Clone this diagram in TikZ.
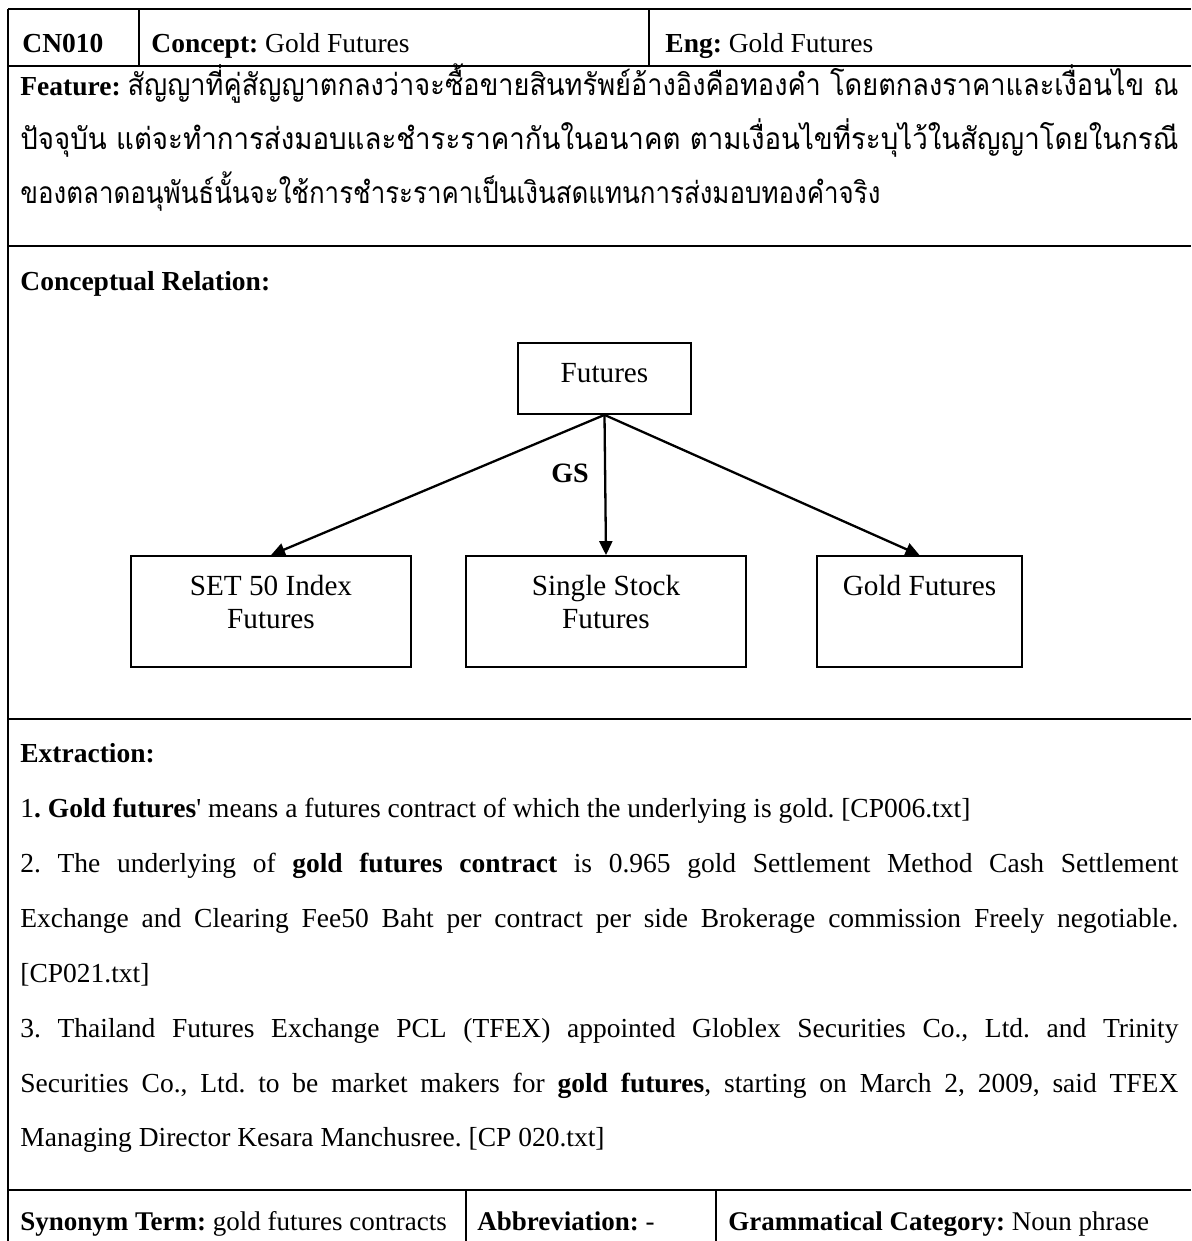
\documentclass[tikz,border=0pt]{standalone}
\usepackage{fontspec}
\usepackage{graphicx}
\setmainfont{Liberation Serif}
\newfontfamily\thaifont[Script=Thai]{Loma}
\usetikzlibrary{arrows.meta}
\frenchspacing

% Thai line stretched to a given width after an optional lead-in
\newsavebox\fitpre
\newsavebox\fitbody
\newdimen\fitprew
\newdimen\fitbodyw
\newcommand\thaisize{\fontsize{15}{17}\selectfont}
\newcommand\thailine[3]{%
  \sbox\fitpre{#2}%
  \sbox\fitbody{\thaifont\thaisize #3}%
  \fitprew=\wd\fitpre \fitbodyw=\wd\fitbody
  \pgfmathsetmacro\fitratio{(#1-\fitprew)/\fitbodyw}%
  \usebox\fitpre\scalebox{\fitratio}[1]{\usebox\fitbody}}
% justified English line
\newcommand\justline[1]{\makebox[579pt][s]{#1}}
% boxed diagram text, top aligned
\newcommand\boxtext[4]{\parbox[t][#2][t]{#1}{\centering\rule{0pt}{#3}#4}}

\begin{document}
\begin{tikzpicture}[x=0.5pt,y=-0.5pt,
  rule/.style={line width=1.4pt},
  txt/.style={anchor=base west,inner sep=0pt,font=\fontsize{13.75}{17.5}\selectfont},
  lastrow/.style={txt,font=\fontsize{13.5}{17.5}\selectfont},
  cbox/.style={draw,line width=0.9pt,inner sep=0pt,font=\fontsize{14.6}{16.5}\selectfont},
  rel/.style={line width=1.15pt,-{Triangle[length=7pt,width=6.5pt]}}]
\useasboundingbox (0,0) rectangle (1191,1241);
\fill[white] (0,0) rectangle (1191,1241);

% table rules
\draw[rule] (8,9) -- (1191,9);
\draw[rule] (8,9) -- (8,1241);
\draw[rule] (139,9) -- (139,66);
\draw[rule] (649,9) -- (649,66);
\draw[rule] (8,66) -- (1191,66);
\draw[rule] (8,246) -- (1191,246);
\draw[rule] (8,719) -- (1191,719);
\draw[rule] (8,1190) -- (1191,1190);
\draw[rule] (466,1190) -- (466,1241);
\draw[rule] (716,1190) -- (716,1241);

% header row
\node[txt] (cn) at (22,53) {\textbf{CN010}};
\node[txt] (concept) at (151,53) {\textbf{Concept:} Gold Futures};
\node[txt] (eng) at (665,53) {\textbf{Eng:} Gold Futures};

% feature
\node[txt] (feat1) at (20,96) {\thailine{579pt}{\textbf{Feature:}\ }{สัญญาที่คู่สัญญาตกลงว่าจะซื้อขายสินทรัพย์อ้างอิงคือทองคำ โดยตกลงราคาและเงื่อนไข ณ}};
\node[txt] (feat2) at (20,150) {\thailine{579pt}{}{ปัจจุบัน แต่จะทำการส่งมอบและชำระราคากันในอนาคต ตามเงื่อนไขที่ระบุไว้ในสัญญาโดยในกรณี}};
\node[txt] (feat3) at (20,204) {\thailine{430pt}{}{ของตลาดอนุพันธ์นั้นจะใช้การชำระราคาเป็นเงินสดแทนการส่งมอบทองคำจริง}};

% conceptual relation
\node[txt] (crl) at (20,290) {\textbf{Conceptual Relation:}};
\node[cbox] (fut) at (604.5,378.5) {\boxtext{86.5pt}{35.5pt}{19.5pt}{Futures}};
\node[cbox] (set) at (271,611.5) {\boxtext{140pt}{55.5pt}{19.5pt}{SET 50 Index\\Futures}};
\node[cbox] (ssf) at (606,611.5) {\boxtext{140pt}{55.5pt}{19.5pt}{Single Stock\\Futures}};
\node[cbox] (gold) at (919.5,611.5) {\boxtext{102.5pt}{55.5pt}{19.5pt}{Gold Futures}};
\draw[rel] (fut.south) -- (set.north);
\draw[rel] (fut.south) -- (ssf.north);
\draw[rel] (fut.south) -- (gold.north);
\node[anchor=base,inner sep=0pt,font=\fontsize{14}{17}\selectfont\bfseries] (gs) at (570,482) {GS};

% extraction
\node[txt] (ext) at (20,762) {\textbf{Extraction:}};
\node[txt] (e1) at (20,817) {1\textbf{. Gold futures}\textquotesingle{} means a futures contract of which the underlying is gold. [CP006.txt]};
\node[txt] (e2a) at (20,872) {\justline{2. The underlying of \textbf{gold futures contract} is 0.965 gold Settlement Method Cash Settlement}};
\node[txt] (e2b) at (20,927) {\justline{Exchange and Clearing Fee50 Baht per contract per side Brokerage commission Freely negotiable.}};
\node[txt] (e2c) at (20,982) {[CP021.txt]};
\node[txt] (e3a) at (20,1037) {\justline{3. Thailand Futures Exchange PCL (TFEX) appointed Globlex Securities Co., Ltd. and Trinity}};
\node[txt] (e3b) at (20,1092) {\justline{Securities Co., Ltd. to be market makers for \textbf{gold futures}, starting on March 2, 2009, said TFEX}};
\node[txt] (e3c) at (20,1146) {Managing Director Kesara Manchusree. [CP 020.txt]};

% bottom row
\node[lastrow] (syn) at (20,1230) {\textbf{Synonym Term:} gold futures contracts};
\node[lastrow] (abbr) at (477,1230) {\textbf{Abbreviation:} -};
\node[lastrow] (gram) at (728,1230) {\textbf{Grammatical Category:} Noun phrase};
\end{tikzpicture}
\end{document}
